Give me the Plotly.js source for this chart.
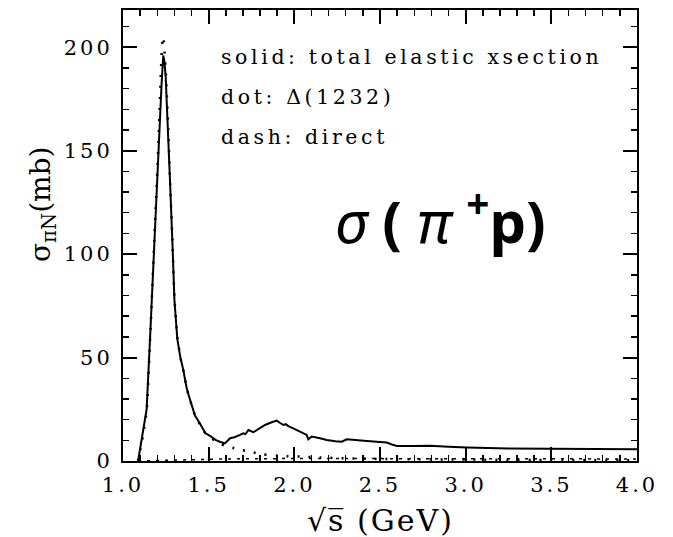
<!DOCTYPE html>
<html>
<head>
<meta charset="utf-8">
<script src="https://cdn.plot.ly/plotly-3.0.1.min.js"></script>
<style>
  html, body { margin: 0; padding: 0; background: #fff; }
  #chart { width: 673px; height: 537px; }
</style>
</head>
<body>
<div id="chart"></div>
<script>
// pi+ p elastic cross section versus sqrt(s)
const energy = [1.088, 1.105, 1.12, 1.138, 1.16, 1.183, 1.206, 1.225, 1.235, 1.242, 1.249,
  1.264, 1.274, 1.29, 1.30, 1.317, 1.335, 1.352, 1.372, 1.39, 1.42, 1.45, 1.48, 1.51,
  1.54, 1.565, 1.595, 1.625, 1.65, 1.683, 1.702, 1.715, 1.732, 1.761, 1.79, 1.829,
  1.86, 1.897, 1.915, 1.936, 1.95, 1.965, 2.0, 2.033, 2.072, 2.082, 2.101, 2.15,
  2.189, 2.24, 2.277, 2.306, 2.36, 2.423, 2.48, 2.539, 2.57, 2.598, 2.70, 2.792,
  2.90, 3.006, 3.25, 3.493, 3.75, 4.0];
const sigmaTotal = [0, 8, 15, 25, 63, 107, 148, 182, 196, 193, 186,
  160, 136, 102, 78, 59, 50, 44, 35, 30, 22, 18, 13.5, 12,
  10.2, 9.3, 8.5, 11, 11.5, 12.6, 13.4, 13, 15, 13.9, 15.5, 17.4,
  18.5, 19.5, 18.5, 17.4, 17.8, 16.9, 15.5, 14.2, 12.6, 10.5, 11.8, 11,
  10.2, 9.6, 9.3, 10.5, 10, 9.7, 9.3, 8.9, 8.0, 7.3, 7.3, 7.4,
  6.9, 6.5, 6.0, 5.8, 5.7, 5.7];

// Delta(1232) contribution
const deltaE = [1.088, 1.105, 1.12, 1.138, 1.16, 1.183, 1.206, 1.222, 1.230, 1.236, 1.243,
  1.25, 1.264, 1.274, 1.29, 1.30, 1.317, 1.335, 1.352, 1.372, 1.39, 1.42, 1.45, 1.48,
  1.51, 1.54, 1.57, 1.60, 1.64, 1.673, 1.741, 1.819, 1.9, 1.965, 2.043, 2.15, 2.3,
  2.5, 3.0, 3.5, 4.0];
const sigmaDelta = [0, 7, 14, 24, 62, 108, 152, 190, 203, 205, 197,
  188, 161, 137, 103, 79, 60, 50, 44, 35, 30, 22, 17.5, 13.5,
  11.5, 9.5, 8.2, 7.3, 6.4, 5.7, 4.5, 3.2, 2.6, 2.3, 2.1, 1.7, 1.3,
  1.0, 0.7, 0.5, 0.4];

// direct (non-resonant) contribution
const directE = [1.088, 1.3, 1.6, 2.0, 2.5, 3.0, 3.5, 4.0];
const sigmaDirect = [0, 0.5, 1.0, 1.2, 1.2, 1.1, 1.0, 1.0];

const xTicks = [1.0, 1.5, 2.0, 2.5, 3.0, 3.5, 4.0];
const yTicks = [0, 50, 100, 150, 200];

const noteLines = ['solid: total elastic xsection', 'dot: Δ(1232)', 'dash: direct'];

const ink = '#000';
const serifFont = '"DejaVu Serif", "Liberation Serif", serif';

// typewriter-like spacing for the printed labels
const spaced = (t, px) => '<span style="letter-spacing:' + px + 'px">' + t + '</span>';

const traces = [
  { x: directE, y: sigmaDirect, mode: 'lines', line: { color: ink, width: 1.5, dash: '3px,6px' }, hoverinfo: 'skip' },
  { x: deltaE, y: sigmaDelta, mode: 'lines', line: { color: ink, width: 2.5, dash: '2px,9px', shape: 'spline', smoothing: 0.4 }, hoverinfo: 'skip' },
  { x: energy, y: sigmaTotal, mode: 'lines', line: { color: ink, width: 2 }, hoverinfo: 'skip' }
];

const axisCommon = {
  showline: true, linecolor: ink, linewidth: 2, mirror: 'allticks',
  ticks: 'inside', tickcolor: ink, tickwidth: 2, ticklen: 14,
  showgrid: false, zeroline: false,
  tickfont: { family: serifFont, size: 21, color: ink }
};

const annotations = noteLines.map((t, i) => ({
  text: spaced(t, 3.6), xref: 'paper', yref: 'paper', x: (219 - 123) / 514, y: (461 - (57 + 40 * i)) / 451,
  xanchor: 'left', yanchor: 'middle', showarrow: false,
  font: { family: serifFont, size: 20.5, color: ink }
}));

annotations.push({
  text: 'σ<sub>πN</sub>(mb)', xref: 'paper', yref: 'paper', x: 0, y: (461 - 205) / 451,
  xshift: -81, xanchor: 'center', yanchor: 'middle', textangle: -90, showarrow: false,
  font: { family: serifFont, size: 28, color: ink }
});

annotations.push({
  text: spaced('√s\u0305 (GeV)', 2), xref: 'paper', yref: 'paper',
  x: 0.5, y: 0, yshift: -59, xanchor: 'center', yanchor: 'middle', showarrow: false,
  font: { family: serifFont, size: 30, color: ink }
});

annotations.push({
  text: '<i>σ</i> <b>(</b> <i>π</i> <b><sup>+</sup>p)</b>', xref: 'paper', yref: 'paper',
  x: (440 - 123) / 514, y: (461 - 218) / 451, xanchor: 'center', yanchor: 'middle', showarrow: false,
  font: { family: '"Noto Sans", "Open Sans", sans-serif', size: 58, color: ink }
});

const layout = {
  width: 673, height: 537,
  margin: { l: 123, r: 36, t: 10, b: 76 },
  paper_bgcolor: '#fff', plot_bgcolor: '#fff',
  showlegend: false,
  xaxis: Object.assign({}, axisCommon, {
    range: [1.0, 4.0], tickvals: xTicks, ticktext: xTicks.map(v => spaced(v.toFixed(1), 3)),
    ticklabelstandoff: 4,
    minor: { ticks: 'inside', ticklen: 6, tickwidth: 1.5, tickcolor: ink, dtick: 0.1, showgrid: false }
  }),
  yaxis: Object.assign({}, axisCommon, {
    range: [0, 218], tickvals: yTicks, ticktext: yTicks.map(v => spaced(String(v), 3)),
    ticklabelstandoff: 4,
    minor: { ticks: 'inside', ticklen: 6, tickwidth: 1.5, tickcolor: ink, dtick: 10, showgrid: false }
  }),
  annotations: annotations
};

Plotly.newPlot('chart', traces, layout, { staticPlot: true, displayModeBar: false });
</script>
</body>
</html>
